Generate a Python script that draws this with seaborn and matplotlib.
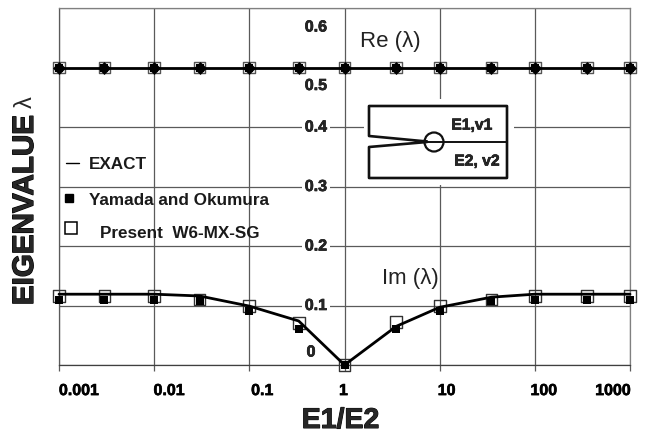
import matplotlib
matplotlib.use("Agg")
import matplotlib.pyplot as plt
import matplotlib.patheffects as pe
import seaborn as sns
from matplotlib.lines import Line2D
from matplotlib.patches import Rectangle, Circle
from matplotlib.ticker import NullLocator
from matplotlib.transforms import Affine2D

sns.set_style("white")
plt.rcParams["font.family"] = ["Liberation Sans", "DejaVu Sans"]

# ---- data ----
ratio = [0.001, 0.003, 0.01, 0.03, 0.1, 0.33, 1, 3.5, 10, 35, 100, 350, 1000]
re_exact = [0.5] * 13
re_present = [0.5] * 13
re_yamada = [0.5] * 13
im_exact = [0.119, 0.119, 0.119, 0.116, 0.099, 0.074, 0.0, 0.065, 0.097, 0.114, 0.119, 0.119, 0.119]
im_present = [0.116, 0.116, 0.116, 0.110, 0.099, 0.070, 0.0, 0.072, 0.099, 0.110, 0.116, 0.116, 0.116]
im_yamada = [0.109, 0.109, 0.109, 0.107, 0.091, 0.060, 0.0, 0.060, 0.091, 0.107, 0.109, 0.109, 0.109]
x_ticks = [0.001, 0.01, 0.1, 1, 10, 100, 1000]
x_labels = ["0.001", "0.01", "0.1", "1", "10", "100", "1000"]
y_ticks = [0, 0.1, 0.2, 0.3, 0.4, 0.5, 0.6]
y_labels = ["0", "0.1", "0.2", "0.3", "0.4", "0.5", "0.6"]

# ---- layout offsets in pixels ----
x_label_dx = [20, 15, 13, -1, 7, 9, -17]
y_label_dx = [252, 257, 257, 257, 257, 257, 257]
y_label_dy = [13, 0, 0, 0, 0, -18, -19]
GRID = "#5a5a5a"
heavy = [pe.withStroke(linewidth=0.45, foreground="black")]

W, H = 648, 435
fig = plt.figure(figsize=(W / 100, H / 100), dpi=100)
fig.patch.set_facecolor("white")
ax = fig.add_axes([59 / W, 1 - 366 / H, (630 - 59) / W, (366 - 9) / H])
px = Affine2D().scale(1 / W, -1 / H).translate(0, 1) + fig.transFigure

ax.set_xscale("log")
ax.set_xlim(0.001, 1000)
ax.set_ylim(0, 0.6)
ax.xaxis.set_minor_locator(NullLocator())
ax.set_xticks(x_ticks)
ax.set_xticklabels(x_labels, fontsize=11.5, fontweight="bold")
ax.set_yticks(y_ticks)
ax.set_yticklabels(y_labels, fontsize=11.5, fontweight="bold")
ax.grid(True, which="major", color=GRID, lw=0.9)
ax.tick_params(axis="x", bottom=True, length=4.5, width=0.9, pad=8.5, colors="black")
ax.tick_params(axis="x", color=GRID)
ax.tick_params(axis="y", left=False, length=0, pad=0)
for s in ax.spines.values():
    s.set_color(GRID)
    s.set_linewidth(0.9)
ax.spines["top"].set_color("#808080")
ax.spines["right"].set_color("#808080")
ax.spines["bottom"].set_color("#404040")

for tick, dx in zip(ax.xaxis.get_major_ticks(), x_label_dx):
    tick.label1.set_ha("center")
    tick.label1.set_path_effects(heavy)
    tick.label1.set_transform(tick.label1.get_transform() + Affine2D().translate(dx, 0))
for tick, dx, dy in zip(ax.yaxis.get_major_ticks(), y_label_dx, y_label_dy):
    tick.label1.set_ha("center")
    tick.label1.set_va("center")
    tick.label1.set_path_effects(heavy)
    tick.label1.set_bbox(dict(facecolor="white", edgecolor="none", pad=2.2))
    tick.label1.set_transform(tick.label1.get_transform() + Affine2D().translate(dx, dy))

# ---- series ----
for exact, present, yamada, big in [(re_exact, re_present, re_yamada, True),
                                    (im_exact, im_present, im_yamada, False)]:
    sns.scatterplot(x=ratio, y=present, ax=ax, marker="s", s=72, facecolor="none",
                    edgecolor="#555555" if big else "#333333", linewidth=1.0,
                    clip_on=False, zorder=3, legend=False)
    sns.lineplot(x=ratio, y=exact, ax=ax, color="black", lw=2.0, zorder=4,
                 legend=False, errorbar=None, clip_on=False)
    sns.scatterplot(x=ratio, y=yamada, ax=ax, marker="s", s=40, color="black", linewidth=0,
                    clip_on=False, zorder=5, legend=False)
    if big:
        sns.scatterplot(x=ratio, y=yamada, ax=ax, marker="D", s=44, color="black", linewidth=0,
                        clip_on=False, zorder=6, legend=False)

# ---- inset sketch ----
ax.add_patch(Rectangle((364, 100), 150, 86, transform=px, facecolor="white", edgecolor="none", zorder=2.2))
ink = dict(color="#111111", lw=1.9, transform=px, zorder=2.6, solid_joinstyle="round", clip_on=False)
ax.add_line(Line2D([427, 369, 369, 507, 507, 369, 369, 427],
                   [142.5, 137, 107, 107, 179, 179, 148, 143], **ink))
ax.add_line(Line2D([427, 507], [143, 143], **{**ink, "lw": 1.4}))
ax.add_patch(Circle((434, 143), 9.5, transform=px, facecolor="none", edgecolor="#111111", lw=1.6, zorder=2.7))
ax.text(472, 126, "E1,v1", transform=px, fontsize=11.3, fontweight="bold", ha="center", va="center",
        zorder=3, path_effects=heavy)
ax.text(477, 162, "E2, v2", transform=px, fontsize=11.3, fontweight="bold", ha="center", va="center",
        zorder=3, path_effects=heavy)

# ---- annotations ----
ax.text(390, 42, "Re (λ)", transform=px, fontsize=16, color="#222222", ha="center", va="center")
ax.text(410, 279, "Im (λ)", transform=px, fontsize=16, color="#222222", ha="center", va="center")

# ---- hand-placed legend ----
ax.add_line(Line2D([66, 79], [164, 164], color="black", lw=1.0, transform=px, clip_on=False))
ax.add_line(Line2D([69], [199], marker="s", ms=6, color="black", ls="none", transform=px, clip_on=False))
ax.add_line(Line2D([71], [229], marker="s", ms=8.5, mfc="none", mec="black", mew=1.1, ls="none", transform=px, clip_on=False))
leg = dict(transform=px, fontsize=12.3, fontweight="bold", color="#1a1a1a", ha="left", va="center")
ax.text(89, 164.5, "EXACT", **leg)
ax.text(89, 200.5, "Yamada and Okumura", **leg)
ax.text(100, 233.5, "Present  W6-MX-SG", **leg)

# ---- axis titles ----
fig.text(340.5, 422, "E1/E2", transform=px, fontsize=20.5, fontweight="bold", ha="center", va="center",
         path_effects=[pe.withStroke(linewidth=0.7, foreground="black")])
fig.text(25, 211, "EIGENVALUE", transform=px, fontsize=21.3, fontweight="bold", rotation=90, ha="center", va="center",
         path_effects=[pe.withStroke(linewidth=0.9, foreground="black")])
fig.text(26, 102, "λ", transform=px, fontsize=17, rotation=90, ha="center", va="center")

fig.savefig("out.png", dpi=100)
